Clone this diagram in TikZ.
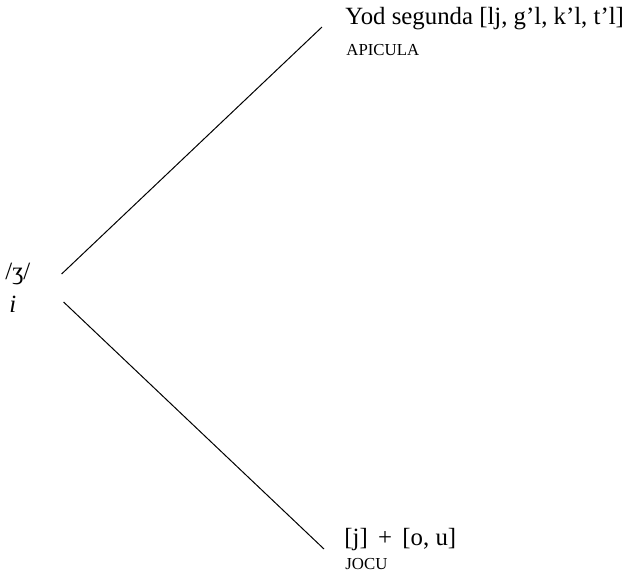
\documentclass[tikz,border=0pt]{standalone}
\usepackage{fontspec}
\setmainfont{Liberation Serif}
\usepackage{tikz}
\usetikzlibrary{positioning, calc}

\begin{document}
\begin{tikzpicture}[x=0.5pt, y=-0.5pt, font=\fontsize{12.4}{14}\selectfont,
    txt/.style={anchor=base west, inner sep=0pt},
    etym/.style={txt, font=\fontsize{8.4}{10}\selectfont},
    branch/.style={line width=0.5pt}]
          \useasboundingbox (0,0) rectangle (630,575);
          % root of the tree
          \node[txt] (root) at (5,279) {/ʒ/};
          \node[txt] (rooti) at (9,312) {\textit{i}};
          % upper branch
          \node[txt] (yod) at (345,24) {Yod segunda [lj, g’l, k’l, t’l]};
          \node[etym] (apicula) at (346,55) {APICULA};
          % lower branch
          \node[txt] (jou) at (344,545) {[j] \,+\, [o, u]};
          \node[etym] (jocu) at (345,569) {JOCU};
          \draw[branch] ([shift={(31,-5)}]root.base east) -- ([shift={(-23,3)}]yod.base west);
          \draw[branch] ([shift={(33,23)}]root.base east) -- ([shift={(-20,4)}]jou.base west);
        \end{tikzpicture}
\end{document}
